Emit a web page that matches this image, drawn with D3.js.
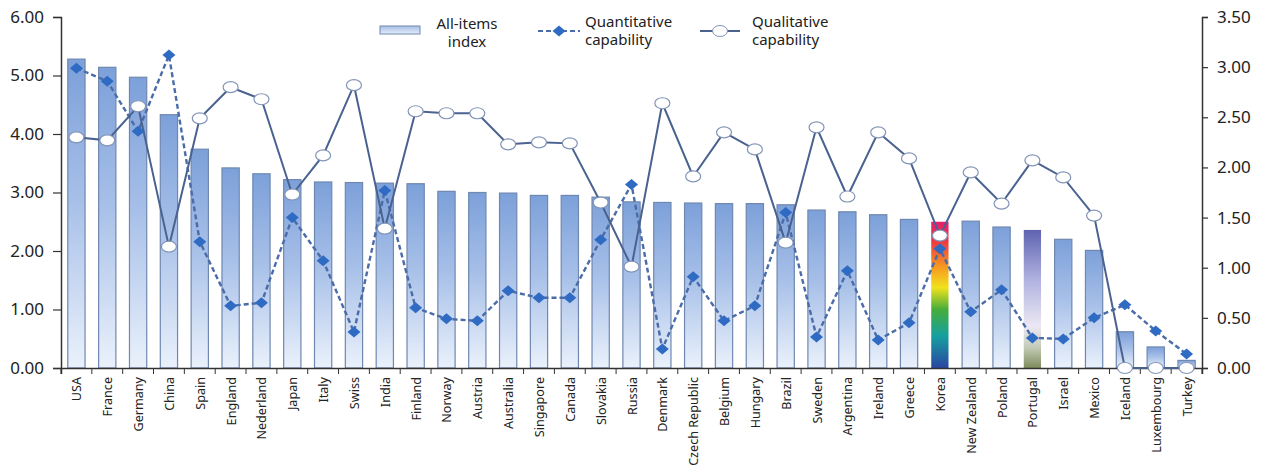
<!DOCTYPE html>
<html>
<head>
<meta charset="utf-8">
<script src="https://cdn.jsdelivr.net/npm/d3@7"></script>
<style>
  body { margin: 0; background: #fff; }
  text { font-family: "Noto Sans", "Open Sans", sans-serif; fill: #222; }
</style>
</head>
<body>
<div id="chart-area"></div>
<script>
const countries = ['USA', 'France', 'Germany', 'China', 'Spain', 'England', 'Nederland', 'Japan', 'Italy', 'Swiss',
    'India', 'Finland', 'Norway', 'Austria', 'Australia', 'Singapore', 'Canada', 'Slovakia', 'Russia', 'Denmark',
    'Czech Republic', 'Belgium', 'Hungary', 'Brazil', 'Sweden', 'Argentina', 'Ireland', 'Greece', 'Korea',
    'New Zealand', 'Poland', 'Portugal', 'Israel', 'Mexico', 'Iceland', 'Luxembourg', 'Turkey'];

// left axis
const allItems = [5.28, 5.14, 4.97, 4.33, 3.74, 3.42, 3.32, 3.22, 3.18, 3.17,
    3.16, 3.15, 3.02, 3.00, 2.99, 2.95, 2.95, 2.92, 2.84, 2.83,
    2.82, 2.81, 2.81, 2.79, 2.70, 2.67, 2.62, 2.54, 2.50,
    2.51, 2.41, 2.36, 2.20, 2.01, 0.62, 0.36, 0.13];

// right axis
const quantitative = [2.99, 2.86, 2.36, 3.12, 1.26, 0.62, 0.65, 1.50, 1.07, 0.36,
    1.77, 0.60, 0.49, 0.47, 0.77, 0.70, 0.70, 1.28, 1.83, 0.19,
    0.91, 0.47, 0.62, 1.55, 0.31, 0.97, 0.28, 0.45, 1.19,
    0.56, 0.78, 0.30, 0.29, 0.50, 0.63, 0.37, 0.14];

const qualitative = [2.30, 2.27, 2.61, 1.21, 2.49, 2.80, 2.68, 1.73, 2.12, 2.82,
    1.39, 2.56, 2.54, 2.54, 2.23, 2.25, 2.24, 1.65, 1.01, 2.64,
    1.91, 2.35, 2.18, 1.25, 2.40, 1.71, 2.35, 2.09, 1.32,
    1.95, 1.64, 2.07, 1.90, 1.52, 0, 0, 0];

const leftTicks = [0, 1, 2, 3, 4, 5, 6];
const rightTicks = [0, 0.5, 1, 1.5, 2, 2.5, 3, 3.5];

const margin = {left: 61, right: 60, top: 17, bottom: 103};
const width = 1262 - margin.left - margin.right,
    height = 471 - margin.top - margin.bottom;

const svg = d3.select('#chart-area')
    .append('svg')
    .attr('width', 1262)
    .attr('height', 471);

const defs = svg.append('defs');

function gradient(id, stops, horizontal) {
    const lg = defs.append('linearGradient')
        .attr('id', id)
        .attr('x1', 0).attr('y1', 0)
        .attr('x2', horizontal ? 1 : 0).attr('y2', horizontal ? 0 : 1);
    stops.forEach(s => lg.append('stop').attr('offset', s[0]).attr('stop-color', s[1]));
}

gradient('barGrad', [[0, '#7ca0d9'], [0.45, '#a6bfe8'], [1, '#eaf1fb']]);
gradient('legendGrad', [[0, '#a6bfe8'], [1, '#e4ecf9']]);
gradient('koreaGrad', [[0, '#e3206f'], [0.12, '#ee3045'], [0.3, '#f59420'], [0.45, '#f2e21c'],
    [0.6, '#45ad3a'], [0.78, '#15a0a0'], [1, '#2a45a2']]);
gradient('portugalGrad', [[0, '#5f63b0'], [0.35, '#aeb0df'], [0.7, '#ece8f4'], [0.85, '#c4ccb8'], [1, '#7e8c5c']]);

const g = svg.append('g')
    .attr('transform', 'translate(' + margin.left + ', ' + margin.top + ')');

const xScale = d3.scaleBand()
    .domain(countries)
    .range([0, width])
    .padding(0);

const yLeft = d3.scaleLinear().domain([0, 6]).range([height, 0]);
const yRight = d3.scaleLinear().domain([0, 3.5]).range([height, 0]);

const barW = xScale.bandwidth() * 0.56;
const cx = (d) => xScale(d) + xScale.bandwidth() / 2;

// bars
g.selectAll('rect.bar')
    .data(countries)
    .enter()
    .append('rect')
    .attr('class', 'bar')
    .attr('x', (d) => cx(d) - barW / 2)
    .attr('width', barW)
    .attr('y', (d, i) => yLeft(allItems[i]))
    .attr('height', (d, i) => height - yLeft(allItems[i]))
    .attr('fill', (d) => d === 'Korea' ? 'url(#koreaGrad)' : d === 'Portugal' ? 'url(#portugalGrad)' : 'url(#barGrad)')
    .attr('stroke', (d) => d === 'Korea' || d === 'Portugal' ? 'none' : '#7088b0')
    .attr('stroke-width', 1.2);

// axes
const xAxis = d3.axisBottom(xScale).tickSize(6).tickFormat('');
const xAxisGroup = g.append('g')
    .attr('transform', 'translate(0, ' + height + ')')
    .call(xAxis);
xAxisGroup.selectAll('.tick').remove();
xAxisGroup.selectAll('line.boundary')
    .data(d3.range(countries.length + 1))
    .enter()
    .append('line')
    .attr('x1', (i) => i * xScale.step())
    .attr('x2', (i) => i * xScale.step())
    .attr('y1', 0).attr('y2', 6)
    .attr('stroke', '#333');

g.selectAll('text.xlabel')
    .data(countries)
    .enter()
    .append('text')
    .attr('class', 'xlabel')
    .attr('transform', (d) => 'translate(' + (cx(d) + 5) + ',' + (height + 9) + ') rotate(-90)')
    .attr('text-anchor', 'end')
    .attr('font-size', '12.6px')
    .text((d) => d);

const yAxisLeft = g.append('g')
    .call(d3.axisLeft(yLeft).tickValues(leftTicks).tickFormat(d3.format('.2f')).tickSize(8).tickPadding(9));
const yAxisRight = g.append('g')
    .attr('transform', 'translate(' + width + ', 0)')
    .call(d3.axisRight(yRight).tickValues(rightTicks).tickFormat(d3.format('.2f')).tickSize(6).tickPadding(9));

[xAxisGroup, yAxisLeft, yAxisRight].forEach((ax) => {
    ax.select('.domain').attr('stroke', '#333').attr('stroke-width', 1.5);
    ax.selectAll('.tick line').attr('stroke', '#333').attr('stroke-width', 1.2);
    ax.selectAll('.tick text').attr('font-size', '17px').attr('fill', '#222')
        .attr('font-family', '"Noto Sans", "Open Sans", sans-serif');
});

// lines
const quantLine = d3.line()
    .x((d, i) => cx(countries[i]))
    .y((d) => yRight(d));

g.append('path')
    .datum(quantitative)
    .attr('d', quantLine)
    .attr('fill', 'none')
    .attr('stroke', '#4a6ca8')
    .attr('stroke-width', 2.4)
    .attr('stroke-dasharray', '5,3');

g.append('path')
    .datum(qualitative)
    .attr('d', quantLine)
    .attr('fill', 'none')
    .attr('stroke', '#4a6290')
    .attr('stroke-width', 2);

const diamond = (x, y) => 'M' + x + ',' + (y - 5.5) + 'L' + (x + 6.5) + ',' + y + 'L' + x + ',' + (y + 5.5) + 'L' + (x - 6.5) + ',' + y + 'Z';

g.selectAll('path.diamond')
    .data(quantitative)
    .enter()
    .append('path')
    .attr('class', 'diamond')
    .attr('d', (d, i) => diamond(cx(countries[i]), yRight(d)))
    .attr('fill', '#2f6bc2');

g.selectAll('ellipse.qual')
    .data(qualitative)
    .enter()
    .append('ellipse')
    .attr('class', 'qual')
    .attr('cx', (d, i) => cx(countries[i]))
    .attr('cy', (d) => yRight(d))
    .attr('rx', 7.5)
    .attr('ry', 5.5)
    .attr('fill', '#fff')
    .attr('stroke', '#8294b6')
    .attr('stroke-width', 1.2);

// legend
const legend = svg.append('g');
legend.append('rect')
    .attr('x', 380).attr('y', 26).attr('width', 40).attr('height', 8)
    .attr('fill', 'url(#legendGrad)').attr('stroke', '#7088b0');
legend.append('text').attr('x', 467).attr('y', 29).attr('text-anchor', 'middle').attr('font-size', '15px').text('All-items');
legend.append('text').attr('x', 467).attr('y', 47).attr('text-anchor', 'middle').attr('font-size', '15px').text('index');

legend.append('line')
    .attr('x1', 538).attr('x2', 580).attr('y1', 31).attr('y2', 31)
    .attr('stroke', '#4a6ca8').attr('stroke-width', 2).attr('stroke-dasharray', '5,3');
legend.append('path').attr('d', diamond(559, 31)).attr('fill', '#2f6bc2');
legend.append('text').attr('x', 585).attr('y', 27).attr('font-size', '15px').text('Quantitative');
legend.append('text').attr('x', 585).attr('y', 45).attr('font-size', '15px').text('capability');

legend.append('line')
    .attr('x1', 700).attr('x2', 740).attr('y1', 31).attr('y2', 31)
    .attr('stroke', '#4a6290').attr('stroke-width', 2);
legend.append('ellipse').attr('cx', 720).attr('cy', 31).attr('rx', 7.5).attr('ry', 5.5)
    .attr('fill', '#fff').attr('stroke', '#8294b6');
legend.append('text').attr('x', 752).attr('y', 27).attr('font-size', '15px').text('Qualitative');
legend.append('text').attr('x', 752).attr('y', 45).attr('font-size', '15px').text('capability');
</script>
</body>
</html>
